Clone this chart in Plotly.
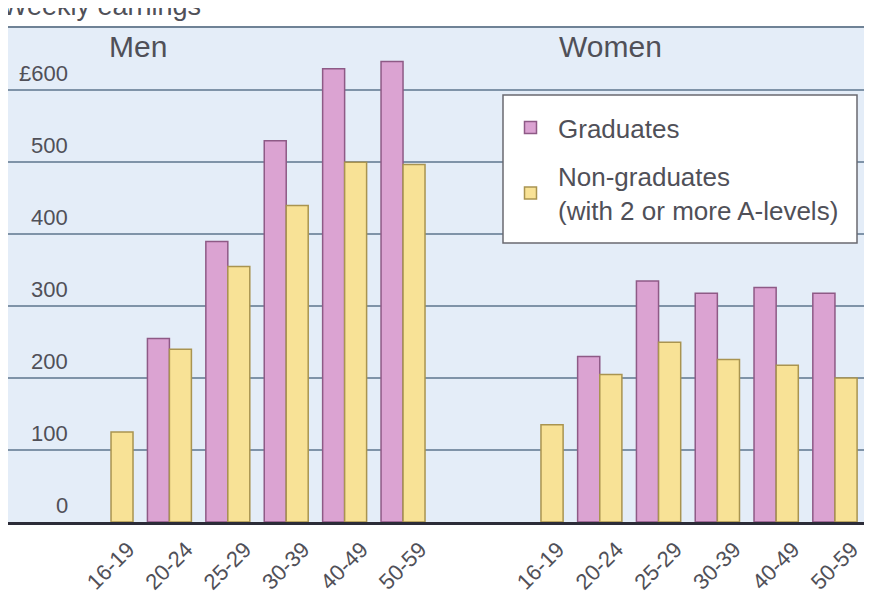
import plotly.graph_objects as go
from plotly.subplots import make_subplots

# ---- data -------------------------------------------------------------
age_groups = ["16-19", "20-24", "25-29", "30-39", "40-49", "50-59"]
men_graduates = [None, 255, 390, 530, 630, 640]
men_non_graduates = [125, 240, 355, 440, 500, 497]
women_graduates = [None, 230, 335, 318, 326, 318]
women_non_graduates = [135, 205, 250, 226, 218, 200]

y_tick_values = [0, 100, 200, 300, 400, 500, 600]
y_tick_labels = ["0", "100", "200", "300", "400", "500", "£600"]

panel_titles = ["Men", "Women"]
series_names = ["Graduates", "Non-graduates<br>(with 2 or more A-levels)"]
chart_title = "Weekly earnings"

# ---- style ------------------------------------------------------------
FONT = "Liberation Sans, Arial, sans-serif"
TEXT = "#505058"
GRAD_FILL = "#dba3d2"
GRAD_LINE = "#8e5a86"
NON_FILL = "#f8e296"
NON_LINE = "#a99450"
BG = "#e4edf8"
GRID = "#7f93a8"

W, H = 872, 595
OFF = 8                      # page offset of the figure inside the window
ML, MR, MT, MB = 0, 8, 19, 81
PW = W - ML - MR
PH = H - MT - MB


def px(sx):                  # window x pixel -> paper x
    return (sx - OFF - ML) / PW


def py(sy):                  # window y pixel -> paper y
    return 1 - (sy - OFF - MT) / PH


split = px(472)

fig = make_subplots(rows=1, cols=2, shared_yaxes=True,
                    column_widths=[split, 1 - split], horizontal_spacing=0)

panels = [(men_graduates, men_non_graduates, 1), (women_graduates, women_non_graduates, 2)]
for grads, nons, col in panels:
    first = col == 1
    fig.add_trace(go.Bar(x=age_groups, y=grads, name=series_names[0],
                         legendgroup="g", showlegend=first,
                         marker=dict(color=GRAD_FILL, line=dict(color=GRAD_LINE, width=1.5))),
                  row=1, col=col)
    fig.add_trace(go.Bar(x=age_groups, y=nons, name=series_names[1],
                         legendgroup="n", showlegend=first,
                         marker=dict(color=NON_FILL, line=dict(color=NON_LINE, width=1.5))),
                  row=1, col=col)

xcommon = dict(showgrid=False, showline=True, linecolor="#2c2c38", linewidth=3,
               ticks="", tickangle=-45, ticklabelshift=17, ticklabelstandoff=3,
               automargin=False,
               tickfont=dict(family=FONT, size=22, color=TEXT), fixedrange=True)
fig.update_xaxes(xcommon)
fig.update_xaxes(range=[-1.764, 6.181], row=1, col=1)
fig.update_xaxes(range=[-1.173, 5.630], row=1, col=2)

fig.update_yaxes(range=[0, 688], tickvals=y_tick_values, showticklabels=False,
                 showgrid=True, gridcolor=GRID, gridwidth=1.5, zeroline=False,
                 ticks="", showline=False, fixedrange=True, automargin=False)

annotations = []
for v, t in zip(y_tick_values, y_tick_labels):
    annotations.append(dict(text=t, xref="paper", yref="y", x=px(70), y=v,
                            xanchor="right", yanchor="bottom", yshift=2, showarrow=False,
                            font=dict(family=FONT, size=22, color=TEXT)))
for t, sx in zip(panel_titles, [138, 610]):
    annotations.append(dict(text=t, xref="paper", yref="paper", x=px(sx), y=py(46),
                            xanchor="center", yanchor="middle", showarrow=False,
                            font=dict(family=FONT, size=30, color=TEXT)))
annotations.append(dict(text=chart_title, xref="paper", yref="paper", x=px(0),
                        y=py(6), xanchor="left", yanchor="middle",
                        showarrow=False, font=dict(family=FONT, size=27, color=TEXT)))

fig.update_layout(
    width=W, height=H,
    margin=dict(l=ML, r=MR, t=MT, b=MB, autoexpand=False),
    paper_bgcolor="white", plot_bgcolor=BG,
    barmode="group", bargap=0.247, bargroupgap=0,
    font=dict(family=FONT, color=TEXT),
    annotations=annotations,
    legend=dict(x=px(503), y=py(104), xanchor="left", yanchor="top",
                bgcolor="rgba(0,0,0,0)", borderwidth=0,
                font=dict(family=FONT, size=26, color=TEXT),
                tracegroupgap=12, itemwidth=45),
    shapes=[
        dict(type="line", xref="paper", yref="paper", x0=0, x1=1, y0=1, y1=1,
             line=dict(color="#6f8296", width=2)),
        dict(type="rect", xref="paper", yref="paper", x0=px(503), x1=px(857),
             y0=py(243), y1=py(95), fillcolor="white", layer="above",
             line=dict(color="#6a6a70", width=1.5)),
    ],
)

fig.write_html("out.html")
